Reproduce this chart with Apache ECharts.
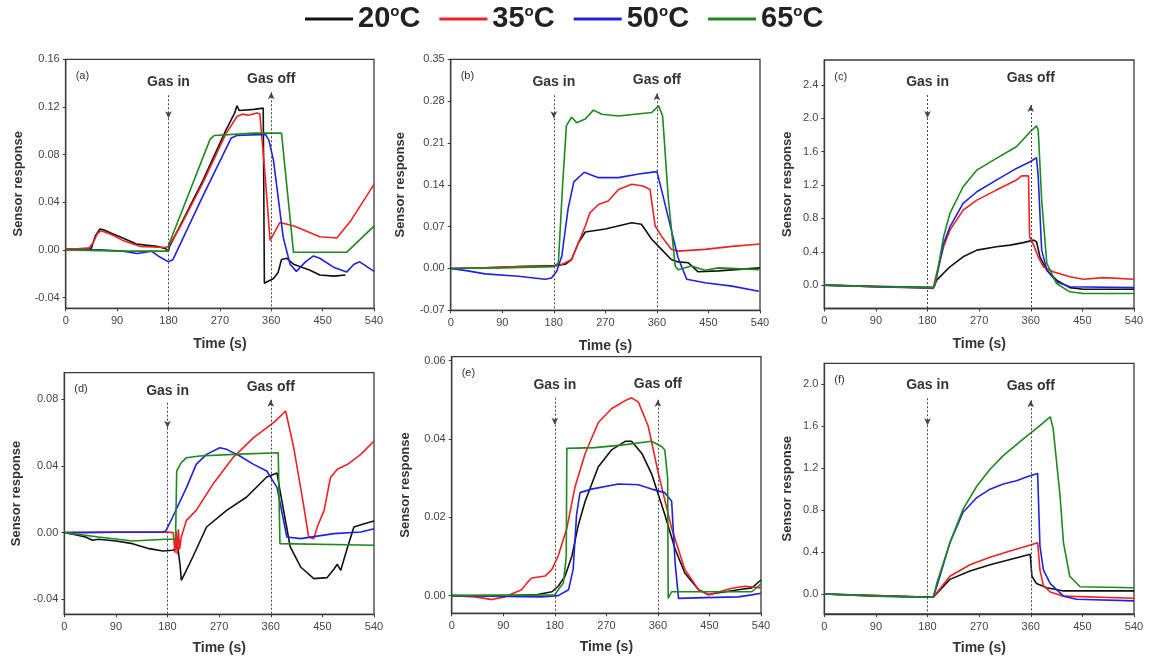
<!DOCTYPE html>
<html><head><meta charset="utf-8">
<script src="https://cdn.jsdelivr.net/npm/echarts@6/dist/echarts.min.js"></script>
<style>html,body{margin:0;padding:0;background:#fff}#c{width:1149px;height:661px}</style>
</head><body><div id="c"></div>
<script>
const temps = ['20', '35', '50', '65'];
const xTicks = [0, 90, 180, 270, 360, 450, 540];
const yTicksA = [-0.04, 0, 0.04, 0.08, 0.12, 0.16];
const yTicksB = [-0.07, 0, 0.07, 0.14, 0.21, 0.28, 0.35];
const yTicksC = [0, 0.4, 0.8, 1.2, 1.6, 2.0, 2.4];
const yTicksD = [-0.04, 0, 0.04, 0.08];
const yTicksE = [0, 0.02, 0.04, 0.06];
const yTicksF = [0, 0.4, 0.8, 1.2, 1.6, 2.0];
const panelLabels = ['(a)', '(b)', '(c)', '(d)', '(e)', '(f)'];
const gasLabels = ['Gas in', 'Gas off'];
const gasTimes = [180, 360];

// ---- panel (a)
const a20 = [[0,0.001],[20,0.001],[45,0.0015],[52,0.012],[60,0.0175],[66,0.017],[80,0.014],[100,0.01],[124,0.005],[140,0.004],[160,0.003],[175,0.001],[180,-0.001],[182,0.003],[200,0.02],[240,0.058],[280,0.1],[296,0.115],[300,0.121],[304,0.117],[330,0.118],[346,0.119],[348,-0.028],[364,-0.024],[372,-0.019],[378,-0.008],[387,-0.007],[399,-0.012],[428,-0.017],[445,-0.021],[470,-0.022],[490,-0.021]];
const a35 = [[0,0.001],[40,0.001],[48,0.006],[56,0.014],[62,0.016],[80,0.013],[100,0.008],[130,0.003],[175,0.002],[180,0.003],[200,0.019],[240,0.056],[280,0.097],[300,0.112],[310,0.114],[320,0.113],[335,0.115],[340,0.114],[348,0.07],[358,0.008],[366,0.015],[375,0.023],[400,0.02],[445,0.011],[475,0.01],[500,0.025],[540,0.055]];
const a50 = [[0,0],[60,0],[100,-0.001],[125,-0.003],[140,-0.002],[150,-0.001],[165,-0.006],[180,-0.01],[188,-0.008],[240,0.045],[290,0.094],[300,0.096],[350,0.097],[356,0.092],[364,0.075],[381,0.0105],[393,-0.012],[404,-0.018],[420,-0.01],[434,-0.005],[445,-0.007],[469,-0.0145],[492,-0.0186],[505,-0.012],[515,-0.01],[540,-0.018]];
const a65 = [[0,0],[100,-0.001],[180,-0.001],[181,0.005],[253,0.093],[260,0.096],[330,0.098],[378,0.098],[399,-0.002],[492,-0.002],[540,0.02]];
// ---- panel (b)
const b20 = [[0,0],[60,0.001],[120,0.003],[180,0.005],[190,0.006],[200,0.007],[211,0.015],[223,0.043],[235,0.061],[270,0.066],[316,0.0766],[333,0.074],[351,0.049],[368,0.032],[385,0.015],[397,0.011],[415,0.0095],[432,-0.0056],[467,-0.004],[540,0.001]];
const b35 = [[0,0],[60,0.001],[120,0.003],[180,0.004],[190,0.005],[200,0.0095],[211,0.015],[223,0.043],[235,0.071],[243,0.093],[258,0.107],[275,0.113],[293,0.132],[316,0.141],[336,0.138],[348,0.132],[357,0.071],[368,0.054],[385,0.032],[397,0.029],[444,0.032],[491,0.037],[540,0.041]];
const b50 = [[0,0],[30,-0.004],[60,-0.009],[118,-0.013],[165,-0.018],[176,-0.016],[185,-0.0045],[194,0.021],[205,0.1],[215,0.145],[233,0.161],[258,0.152],[293,0.152],[328,0.158],[360,0.162],[368,0.132],[385,0.065],[397,0.018],[412,-0.018],[444,-0.024],[491,-0.0296],[538,-0.038]];
const b65 = [[0,0],[90,0.001],[180,0.003],[188,0.0095],[196,0.15],[202,0.239],[211,0.253],[220,0.244],[235,0.25],[249,0.265],[264,0.258],[293,0.255],[351,0.261],[363,0.272],[370,0.255],[380,0.116],[392,0.004],[397,-0.002],[420,0.004],[444,-0.003],[467,0.001],[538,-0.002]];
// ---- panel (c)
const c20 = [[0,0],[90,-0.015],[190,-0.03],[193,-0.02],[196,0.06],[219,0.22],[242,0.34],[266,0.42],[300,0.46],[324,0.48],[347,0.51],[365,0.54],[370,0.52],[376,0.34],[388,0.18],[405,0.06],[428,-0.03],[452,-0.05],[540,-0.05]];
const c35 = [[0,0],[90,-0.02],[190,-0.04],[193,0.06],[208,0.46],[219,0.66],[242,0.9],[266,1.02],[300,1.14],[335,1.26],[344,1.31],[356,1.31],[358,0.58],[365,0.48],[373,0.34],[382,0.22],[399,0.16],[428,0.1],[452,0.07],[487,0.09],[540,0.07]];
const c50 = [[0,0],[90,-0.02],[190,-0.03],[193,0.0],[208,0.5],[219,0.7],[242,0.98],[266,1.12],[300,1.26],[335,1.4],[359,1.48],[370,1.53],[373,1.3],[379,0.42],[388,0.18],[405,0.04],[428,-0.02],[540,-0.03]];
const c65 = [[0,0],[90,-0.02],[190,-0.03],[193,0.0],[208,0.58],[219,0.86],[242,1.18],[266,1.38],[300,1.52],[335,1.66],[359,1.84],[370,1.91],[373,1.86],[379,1.02],[388,0.26],[405,0.02],[428,-0.08],[452,-0.1],[540,-0.1]];
// ---- panel (d)
const d20 = [[0,0],[15,-0.001],[37,-0.0026],[49,-0.0046],[60,-0.004],[90,-0.005],[119,-0.0066],[148,-0.0096],[172,-0.011],[189,-0.0106],[198,-0.0086],[202,-0.02],[204,-0.0286],[210,-0.0246],[224,-0.0146],[248,0.0034],[283,0.0134],[318,0.0214],[353,0.0334],[371,0.0358],[376,0.0254],[394,-0.0086],[412,-0.0206],[435,-0.0276],[458,-0.027],[470,-0.022],[476,-0.019],[482,-0.0226],[494,-0.0086],[505,0.0034],[523,0.0054],[540,0.007]];
const d35 = [[0,0],[90,0.0003],[180,0.0003],[190,0.0],[193,-0.012],[195,0.001],[197,-0.013],[199,0.002],[201,-0.01],[204,-0.0026],[213,0.0074],[230,0.0134],[259,0.029],[294,0.045],[330,0.057],[365,0.066],[386,0.073],[400,0.051],[417,0.017],[426,-0.0026],[435,-0.0036],[441,0.0034],[453,0.0134],[464,0.033],[476,0.038],[494,0.041],[517,0.047],[540,0.055]];
const d50 = [[0,0],[90,0.0002],[170,0.0002],[177,0.001],[189,0.0094],[213,0.027],[230,0.041],[248,0.047],[271,0.051],[283,0.05],[306,0.046],[330,0.041],[353,0.037],[371,0.027],[388,-0.0026],[412,-0.0036],[470,-0.0006],[517,0.0004],[540,0.0024]];
const d65 = [[0,0],[60,-0.0026],[119,-0.005],[177,-0.004],[194,-0.004],[196,0.037],[204,0.042],[213,0.045],[236,0.046],[294,0.047],[373,0.048],[376,-0.0066],[540,-0.0076]];
// ---- panel (e)
const e20 = [[0,0],[100,0],[150,0.0003],[175,0.001],[186,0.0024],[198,0.005],[210,0.0102],[221,0.018],[233,0.0241],[256,0.0329],[279,0.0372],[303,0.0394],[314,0.0394],[332,0.0363],[349,0.0311],[372,0.0207],[390,0.0119],[407,0.0058],[431,0.0015],[448,0.0003],[500,0.0015],[524,0.002],[540,0.004]];
const e35 = [[0,0],[40,-0.0003],[58,-0.0007],[70,-0.001],[93,-0.0003],[122,0.0015],[131,0.0032],[140,0.0045],[163,0.005],[175,0.0067],[186,0.0102],[201,0.0172],[215,0.0276],[233,0.0363],[256,0.0442],[279,0.0477],[303,0.0498],[314,0.0505],[326,0.0494],[343,0.0433],[361,0.0311],[384,0.0172],[407,0.0067],[431,0.0015],[448,0.0002],[489,0.0019],[512,0.0024],[540,0.002]];
const e50 = [[0,0],[157,-0.0003],[186,0],[204,0.0015],[212,0.0067],[218,0.0207],[224,0.0263],[244,0.0272],[291,0.0285],[326,0.0283],[349,0.0272],[372,0.0263],[384,0.0241],[390,0.0085],[396,-0.0007],[442,-0.0005],[500,-0.0003],[524,0.0002],[540,0.0006]];
const e65 = [[0,0],[180,0.0002],[186,0.0015],[195,0.0032],[200,0.01],[201,0.0376],[250,0.0378],[300,0.0385],[349,0.0394],[367,0.038],[372,0.0372],[377,0.03],[378,-0.0007],[384,0.001],[450,0.001],[524,0.001],[540,0.003]];
// ---- panel (f)
const f20 = [[0,0],[90,-0.015],[190,-0.03],[193,-0.02],[219,0.14],[254,0.22],[289,0.28],[324,0.33],[359,0.38],[362,0.17],[370,0.1],[388,0.06],[417,0.03],[540,0.03]];
const f35 = [[0,0],[90,-0.015],[190,-0.03],[193,-0.01],[219,0.17],[254,0.28],[289,0.35],[324,0.41],[355,0.46],[372,0.49],[376,0.23],[382,0.08],[394,0.02],[417,-0.02],[540,-0.04]];
const f50 = [[0,0],[90,-0.02],[190,-0.03],[196,0.07],[219,0.49],[242,0.78],[266,0.92],[289,1.0],[312,1.05],[335,1.08],[355,1.12],[372,1.15],[376,0.46],[382,0.23],[394,0.1],[417,-0.02],[440,-0.05],[540,-0.065]];
const f65 = [[0,0],[90,-0.02],[190,-0.03],[196,0.1],[219,0.49],[242,0.81],[266,1.03],[289,1.19],[312,1.32],[347,1.48],[370,1.58],[394,1.69],[399,1.58],[411,0.94],[417,0.49],[428,0.17],[446,0.07],[540,0.06]];

const colors = ['#111111', '#ee2222', '#2222dd', '#1c8a1c'];
const FONT = "'Liberation Sans', Arial, sans-serif";

// layout of each panel (pixels) + axis extents; ann = [gasIn top, arrow, gasOff top] px below frame top, ld = label distances
const panels = [
  {g:{left:65.7, top:59.3, width:308.3, height:249}, min:-0.049, max:0.16, ticks:yTicksA, dec:2, data:[a20,a35,a50,a65], ng:41, xg:29, ann:[36,59,33], ld:[6,6]},
  {g:{left:450.7, top:59.3, width:309.3, height:251}, min:-0.07, max:0.35, ticks:yTicksB, dec:2, data:[b20,b35,b50,b65], ng:44, xg:29, ann:[36,59,34], ld:[6,6]},
  {g:{left:824.3, top:60, width:309.7, height:248.5}, min:-0.28, max:2.7, ticks:yTicksC, dec:1, data:[c20,c35,c50,c65], ng:30, xg:29, ann:[35,58,45], ld:[6,20]},
  {g:{left:64.3, top:372.7, width:309.7, height:241.6}, min:-0.049, max:0.096, ticks:yTicksD, dec:2, data:[d20,d35,d50,d65], ng:41, xg:27, ann:[30,55,27], ld:[5,6]},
  {g:{left:451.7, top:356.7, width:309.3, height:256.6}, min:-0.0045, max:0.061, ticks:yTicksE, dec:2, data:[e20,e35,e50,e65], ng:40, xg:27, ann:[41,68,43], ld:[6,9]},
  {g:{left:824.3, top:363.3, width:309.7, height:250.7}, min:-0.19, max:2.2, ticks:yTicksF, dec:1, data:[f20,f35,f50,f65], ng:30, xg:27, ann:[35,62,37], ld:[6,7]}
];

const grid = [], xAxis = [], yAxis = [], series = [], title = [];
panels.forEach((p, i) => {
  grid.push(Object.assign({show:true, borderColor:'#3a3a3a', borderWidth:1.3, containLabel:false}, p.g));
  xAxis.push({
    type:'value', gridIndex:i, min:0, max:540, interval:90,
    name:'Time (s)', nameLocation:'middle', nameGap:p.xg,
    nameTextStyle:{fontFamily:FONT, fontWeight:'bold', fontSize:14, color:'#333'},
    axisLine:{onZero:false, lineStyle:{color:'#3a3a3a', width:1.3}},
    axisTick:{show:true, length:3, lineStyle:{color:'#3a3a3a'}},
    axisLabel:{fontFamily:FONT, fontSize:11, color:'#444', margin:7, customValues:xTicks},
    splitLine:{show:false}
  });
  yAxis.push({
    type:'value', gridIndex:i, min:p.min, max:p.max,
    name:'Sensor response', nameLocation:'middle', nameGap:p.ng,
    nameTextStyle:{fontFamily:FONT, fontWeight:'bold', fontSize:13, color:'#333'},
    axisLine:{onZero:false, lineStyle:{color:'#3a3a3a', width:1.3}},
    axisTick:{show:true, length:3, customValues:p.ticks, lineStyle:{color:'#3a3a3a'}},
    axisLabel:{fontFamily:FONT, fontSize:11, color:'#444', margin:6, customValues:p.ticks,
      formatter:v => Number(v).toFixed(p.dec)},
    splitLine:{show:false}
  });
  title.push({text:panelLabels[i], left:p.g.left + 5, top:p.g.top + 6,
    textStyle:{fontFamily:FONT, fontSize:11, fontWeight:'normal', color:'#333'}});
  const yv = px => p.max - px / p.g.height * (p.max - p.min);
  p.data.forEach((d, k) => {
    const s = {
      type:'line', name:temps[k] + '°C', xAxisIndex:i, yAxisIndex:i, data:d,
      showSymbol:false, symbol:'none', animation:false,
      lineStyle:{color:colors[k], width:1.6}, itemStyle:{color:colors[k]}
    };
    if (k === 0) {
      const lblIn = {show:true, position:'start', distance:p.ld[0], formatter:gasLabels[0],
        fontFamily:FONT, fontWeight:'bold', fontSize:14, color:'#333'};
      const lblOff = Object.assign({}, lblIn, {formatter:gasLabels[1], distance:p.ld[1]});
      s.markLine = {
        silent:true, animation:false, symbol:'none',
        lineStyle:{type:[2,2], color:'#444', width:1},
        data:[
          [{coord:[gasTimes[0], yv(p.ann[0])], symbol:'none', label:lblIn},
           {coord:[gasTimes[0], yv(p.ann[1])], symbol:'arrow', symbolSize:[5,7]}],
          [{coord:[gasTimes[0], yv(p.ann[1])], symbol:'none', label:{show:false}},
           {coord:[gasTimes[0], p.min], symbol:'none'}],
          [{coord:[gasTimes[1], yv(p.ann[2])], symbol:'arrow', symbolSize:[5,7], label:lblOff},
           {coord:[gasTimes[1], p.min], symbol:'none'}]
        ]
      };
    }
    series.push(s);
  });
});

const option = {
  backgroundColor:'#fff',
  animation:false,
  title:title,
  legend:{
    data:temps.map(t => t + '°C'), left:305, top:4, padding:0, itemWidth:48, itemHeight:3, itemGap:19,
    icon:'rect', selectedMode:false,
    formatter:name => '{n|' + name.replace('°C','') + '}{s|o}{n|C}',
    textStyle:{
      rich:{
        n:{fontFamily:FONT, fontSize:29, fontWeight:'bold', color:'#222', lineHeight:30},
        s:{fontFamily:FONT, fontSize:15, fontWeight:'bold', color:'#222', verticalAlign:'top', lineHeight:30, padding:[0,0,12,0]}
      }
    }
  },
  grid:grid, xAxis:xAxis, yAxis:yAxis, series:series
};
const chart = echarts.init(document.getElementById('c'), null, {renderer:'canvas'});
chart.setOption(option);
</script>
</body></html>
